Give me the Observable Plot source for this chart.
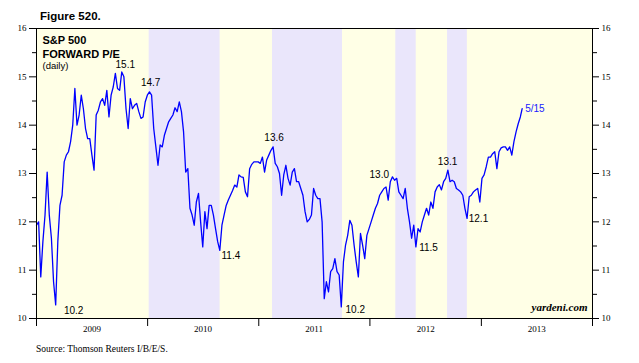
<!DOCTYPE html>
<html><head><meta charset="utf-8">
<script src="https://cdn.jsdelivr.net/npm/d3@7"></script>
<script src="https://cdn.jsdelivr.net/npm/@observablehq/plot@0.6"></script>
<style>
body{margin:0;background:#fff;}
#wrap{position:relative;width:639px;height:363px;overflow:hidden;background:#fff;}
#title{position:absolute;left:40px;top:10px;font:bold 11.5px "Liberation Sans",Arial,sans-serif;color:#000;line-height:13px;}
#source{position:absolute;left:36px;top:343px;font:9.5px "Liberation Serif","Times New Roman",serif;color:#000;line-height:12px;}
#chart{position:absolute;left:0;top:0;}
</style></head>
<body>
<div id="wrap">
  <div id="chart"></div>
  <div id="title">Figure 520.</div>
  <div id="source">Source: Thomson Reuters I/B/E/S.</div>
</div>
<script>
// Weekly readings of S&P 500 forward P/E, starting 2009-01-01
const weekStart = "2009-01-01";
const peWeekly = [
11.93,12.0,10.86,11.59,12.14,13.03,12.14,11.66,10.76,10.28,
11.59,12.34,12.55,13.24,13.38,13.45,13.66,14.0,14.76,14.0,
14.21,14.62,14.34,13.93,13.72,13.72,13.38,13.07,14.21,14.31,
14.48,14.55,14.41,14.72,14.17,14.62,14.79,15.07,14.76,14.72,
15.1,15.0,14.34,13.93,14.55,14.34,14.41,14.45,14.28,14.14,
14.17,14.48,14.62,14.69,14.62,13.93,13.55,13.17,13.59,13.55,
13.79,13.93,14.07,14.14,14.21,14.36,14.28,14.48,14.28,13.86,
13.03,13.1,12.28,12.14,11.93,12.41,12.59,12.0,11.48,12.21,
11.86,12.34,12.34,12.14,11.86,11.59,11.41,11.93,12.14,12.34,
12.45,12.55,12.65,12.76,12.72,12.97,12.93,12.92,12.62,12.52,
13.1,13.19,13.24,13.24,13.24,13.21,13.34,13.03,13.28,13.38,
13.48,13.55,13.21,13.14,13.0,12.55,12.97,13.17,12.9,12.76,
13.03,13.1,12.83,12.83,12.69,12.55,12.21,12.0,12.05,12.14,
12.69,12.55,12.48,12.48,12.0,10.41,10.76,10.55,10.97,11.03,
11.24,10.97,10.9,10.24,11.17,11.52,11.72,12.03,11.93,11.52,
11.17,10.86,11.76,11.52,11.24,11.72,11.86,12.0,12.14,12.28,
12.38,12.55,12.62,12.69,12.72,12.45,12.83,12.93,12.86,12.9,
12.62,12.55,12.48,12.69,12.28,12.0,11.66,11.93,11.48,11.86,
11.79,12.0,12.14,12.28,12.14,12.41,12.28,12.62,12.72,12.77,
12.66,12.83,12.9,13.07,12.83,12.86,12.83,12.69,12.66,12.62,
12.55,12.28,12.07,12.52,12.55,12.62,12.66,12.69,12.41,12.9,
12.97,13.14,13.34,13.34,13.41,13.45,13.1,13.45,13.53,13.55,
13.55,13.48,13.55,13.38,13.66,13.86,14.03,14.17
];
const lastDate = "2013-05-15";
const lastPE = 14.34;

// Market-decline periods (shaded)
const bandStart = ["2010-01-06","2011-02-15","2012-03-26","2012-09-12"];
const bandEnd   = ["2010-08-27","2011-10-03","2012-06-01","2012-11-16"];

// Annotations
const noteDate  = ["2009-03-09","2009-10-13","2010-01-11","2010-08-25","2011-02-17","2011-10-03","2012-03-20","2012-06-01","2012-09-12","2012-11-14","2013-05-15"];
const noteValue = [10.2,15.1,14.7,11.4,13.6,10.2,13.0,11.5,13.1,12.1,14.34];
const noteText  = ["10.2","15.1","14.7","11.4","13.6","10.2","13.0","11.5","13.1","12.1","5/15"];
// label placement (style)
const noteAnchor = ["start","middle","middle","start","middle","start","end","start","middle","start","start"];
const noteDx = [7,2,0,2,1,3,-5,3,0,2,3];
const noteDy = [2,-7,-9,5,-7,1,1,2,-7,2,0];
const noteColor = ["#000","#000","#000","#000","#000","#000","#000","#000","#000","#000","#2020ff"];

// Axes
const yearStarts = ["2009","2010","2011","2012","2013","2014"];
const yearLabels = ["2009","2010","2011","2012","2013"];
const yMajor = [10,11,12,13,14,15,16];
const yMinor = [10.5,11.5,12.5,13.5,14.5,15.5];

// Build tables
const series = peWeekly.map((v, i) => ({date: d3.utcDay.offset(new Date(weekStart), 7 * i), pe: v}));
series.push({date: new Date(lastDate), pe: lastPE});
const bands = bandStart.map((s, i) => ({start: new Date(s), end: new Date(bandEnd[i])}));
const yearTickDates = yearStarts.map(y => new Date(y + "-01-01"));
const yearMidDates = yearLabels.map(y => new Date(y + "-07-02"));

const sans = "'Liberation Sans', Arial, sans-serif";
const serif = "'Liberation Serif', 'Times New Roman', serif";

const noteMarks = noteText.map((t, i) => Plot.text([{date: new Date(noteDate[i]), v: noteValue[i], t}], {
  x: "date", y: "v", text: "t", textAnchor: noteAnchor[i], dx: noteDx[i], dy: noteDy[i],
  fill: noteColor[i], fontFamily: sans, fontSize: 10
}));

const chart = Plot.plot({
  width: 639, height: 363,
  marginLeft: 36, marginRight: 47, marginTop: 28, marginBottom: 45,
  style: {fontFamily: serif, fontSize: "9px", background: "transparent", color: "#000"},
  x: {type: "utc", domain: [new Date("2009-01-01"), new Date("2014-01-01")]},
  y: {domain: [10, 16]},
  marks: [
    Plot.frame({fill: "#FFFFE6", stroke: null}),
    Plot.rect(bands, {x1: "start", x2: "end", fill: "#EAE6FB"}),
    Plot.lineY(series, {x: "date", y: "pe", stroke: "#0000ff", strokeWidth: 1.3}),
    ...noteMarks,
    Plot.text(["S&P 500"], {frameAnchor: "top-left", dx: 6, dy: 8, textAnchor: "start", fontFamily: sans, fontSize: 11, fontWeight: "bold"}),
    Plot.text(["FORWARD P/E"], {frameAnchor: "top-left", dx: 6, dy: 21.5, textAnchor: "start", fontFamily: sans, fontSize: 11, fontWeight: "bold"}),
    Plot.text(["(daily)"], {frameAnchor: "top-left", dx: 6, dy: 34, textAnchor: "start", fontFamily: sans, fontSize: 9.5}),
    Plot.text(["yardeni.com"], {frameAnchor: "bottom-right", dx: -5, dy: -8, textAnchor: "end", fontFamily: serif, fontSize: 11, fontStyle: "italic", fontWeight: "bold"}),
    Plot.axisX({ticks: yearTickDates, tickSize: 8, tickFormat: () => "", anchor: "bottom"}),
    Plot.axisX({ticks: yearMidDates, tickSize: 0, tickPadding: 7, tickFormat: d => String(d.getUTCFullYear()), anchor: "bottom", fontSize: 9}),
    Plot.axisY({ticks: yMajor, tickSize: 7, tickPadding: 3, anchor: "left", tickFormat: d => String(d)}),
    Plot.axisY({ticks: yMinor, tickSize: 4, tickFormat: () => "", anchor: "left"}),
    Plot.axisY({ticks: yMajor, tickSize: 6, tickPadding: 3, anchor: "right", tickFormat: d => String(d)}),
    Plot.axisY({ticks: yMinor, tickSize: 4, tickFormat: () => "", anchor: "right"}),
    Plot.frame({stroke: "#000", strokeWidth: 1})
  ]
});
document.getElementById("chart").appendChild(chart);
</script>
</body></html>
